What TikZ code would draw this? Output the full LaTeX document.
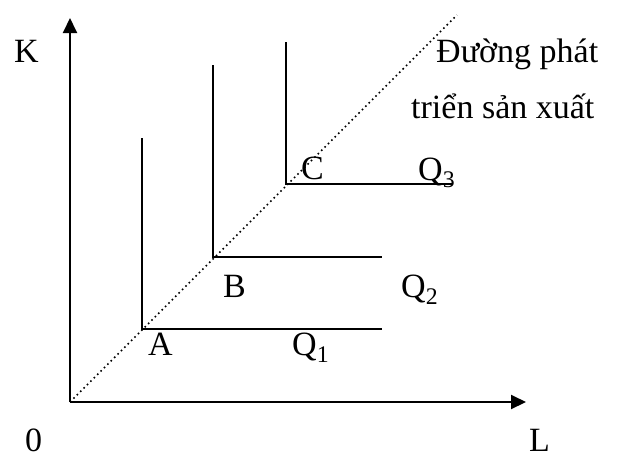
\documentclass[tikz,border=0pt]{standalone}
\usepackage{fontspec}
\setmainfont{Liberation Serif}
\usetikzlibrary{arrows.meta}
\begin{document}
\begin{tikzpicture}[x=1pt,y=-1pt,
  axis/.style={line width=2pt,-{Triangle[length=15pt,width=14pt]}},
  iso/.style={line width=1.8pt},
  expansion/.style={line width=1.6pt,dash pattern=on 1.6pt off 3.2pt},
  lbl/.style={inner sep=0pt,anchor=base west,font=\fontsize{34}{36}\selectfont}]
\useasboundingbox (0,0) rectangle (643,459);
% points
\coordinate (O) at (70,402);
\coordinate (Ytip) at (70,18);
\coordinate (Xtip) at (526,402);
\coordinate (A) at (142,329);
\coordinate (Atop) at (142,138);
\coordinate (Aend) at (382,329);
\coordinate (B) at (213,257);
\coordinate (Btop) at (213,65);
\coordinate (Bend) at (382,257);
\coordinate (C) at (286,184);
\coordinate (Ctop) at (286,42);
\coordinate (Cend) at (453,184);
\coordinate (E) at (457,15);
% axes
\draw[axis] (O) -- (Ytip);
\draw[axis] (O) -- (Xtip);
% isoquants
\draw[iso] (Atop) -- (A) -- (Aend);
\draw[iso] (Btop) -- (B) -- (Bend);
\draw[iso] (Ctop) -- (C) -- (Cend);
% expansion path
\draw[expansion] (O) -- (E);
% labels
\node[lbl] (K) at (14,62) {K};
\node[lbl] (zero) at (25,451) {0};
\node[lbl] (L) at (529,451) {L};
\node[lbl] (path1) at (436,62) {Đường phát};
\node[lbl] (path2) at (411,118) {triển sản xuất};
\node[lbl] (Alab) at (148,355) {A};
\node[lbl] (Blab) at (223,297) {B};
\node[lbl] (Clab) at (301,179) {C};
\node[lbl] (Q1) at (292,355) {Q\textsubscript{1}};
\node[lbl] (Q2) at (401,297) {Q\textsubscript{2}};
\node[lbl] (Q3) at (418,180) {Q\textsubscript{3}};
\end{tikzpicture}
\end{document}
